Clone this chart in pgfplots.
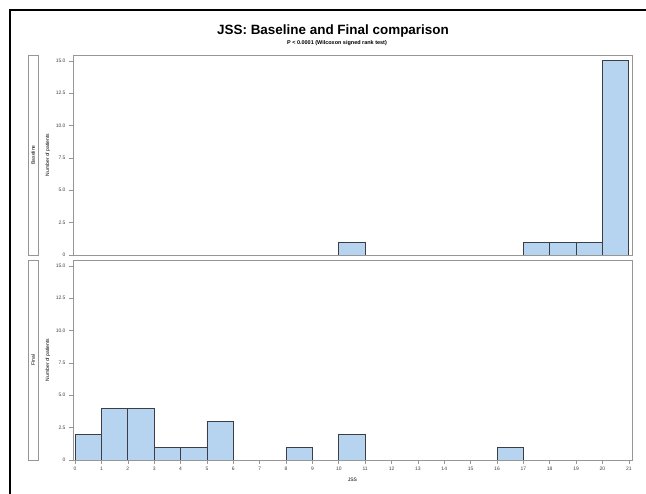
\documentclass[border=0pt]{standalone}
\usepackage{fontspec}
\setmainfont{Liberation Sans}
\usepackage{pgfplots}
\pgfplotsset{compat=1.18}
\definecolor{barblue}{RGB}{182,212,240}
\definecolor{baredge}{RGB}{60,62,70}
\definecolor{framegray}{RGB}{150,150,150}
\newcommand{\tickfont}{\fontsize{5}{6}\selectfont}
\pgfplotsset{
  panel/.style={
    anchor=north west, scale only axis, width=559bp, height=200bp,
    xmin=-0.08, xmax=21.12, ymin=0, ymax=15.45,
    ytick={0,2.5,5,7.5,10,12.5,15},
    yticklabels={0,2.5,5.0,7.5,10.0,12.5,15.0},
    /pgf/number format/assume math mode=true,
    axis line style={framegray, line width=0.8bp},
    every tick/.style={framegray, line width=0.6bp},
    tick align=outside, major tick length=4bp,
    ytick pos=left, xtick pos=bottom,
    ticklabel style={font=\tickfont, text=black!75},
    ylabel={Number of patients},
    ylabel style={font=\tickfont, at={(axis description cs:-0.045,0.5)}, anchor=center},
    ybar, bar width=1, bar shift=0pt,
  },
  hbar/.style={fill=barblue, draw=baredge, line width=0.7bp},
}
\begin{document}
\begin{tikzpicture}
\useasboundingbox (0,0) rectangle (646bp,494bp);
\draw[line width=1.4bp] (10bp,0bp) -- (10bp,484bp) -- (646bp,484bp);
\node[font=\bfseries\fontsize{13.5}{16}\selectfont] at (333bp,463bp) {JSS: Baseline and Final comparison};
\node[font=\bfseries\fontsize{5.5}{6.5}\selectfont] at (337bp,451bp) {P < 0.0001 (Wilcoxon signed rank test)};
% strips
\draw[framegray, line width=0.8bp] (28bp,239bp) rectangle (38bp,439bp);
\draw[framegray, line width=0.8bp] (28bp,34bp) rectangle (38bp,234bp);
\node[rotate=90, font=\tickfont] at (33bp,339bp) {Baseline};
\node[rotate=90, font=\tickfont] at (33bp,134bp) {Final};
% Baseline panel
\begin{axis}[panel, at={(73bp,439bp)}, xtick=\empty]
\addplot[hbar] coordinates {(10.5,1) (17.5,1) (18.5,1) (19.5,1) (20.5,15)};
\end{axis}
% Final panel
\begin{axis}[panel, at={(73bp,234bp)},
  xtick={0,1,...,21},
  xlabel={JSS},
  xlabel style={font=\tickfont, at={(axis description cs:0.5,-0.1)}, anchor=center}]
\addplot[hbar] coordinates {(0.5,2) (1.5,4) (2.5,4) (3.5,1) (4.5,1) (5.5,3) (8.5,1) (10.5,2) (16.5,1)};
\end{axis}
\end{tikzpicture}
\end{document}
